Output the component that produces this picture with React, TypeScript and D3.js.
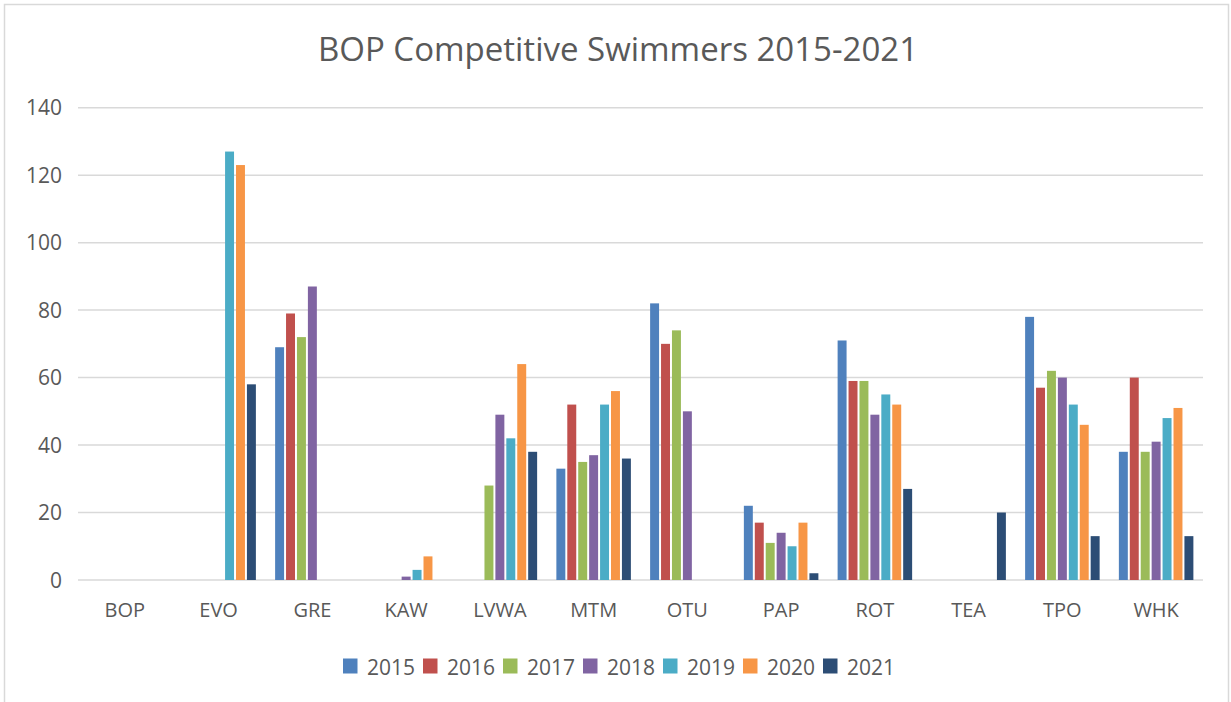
import * as d3 from 'd3';

const clubs = ['BOP', 'EVO', 'GRE', 'KAW', 'LVWA', 'MTM', 'OTU', 'PAP', 'ROT', 'TEA', 'TPO', 'WHK'];
const years = ['2015', '2016', '2017', '2018', '2019', '2020', '2021'];
const colors = ['#4f81bd', '#c0504d', '#9bbb59', '#8064a2', '#4bacc6', '#f79646', '#2c4d75'];

// one array per year, in club order
const y2015 = [0, 0, 69, 0, 0, 33, 82, 22, 71, 0, 78, 38];
const y2016 = [0, 0, 79, 0, 0, 52, 70, 17, 59, 0, 57, 60];
const y2017 = [0, 0, 72, 0, 28, 35, 74, 11, 59, 0, 62, 38];
const y2018 = [0, 0, 87, 1, 49, 37, 50, 14, 49, 0, 60, 41];
const y2019 = [0, 127, 0, 3, 42, 52, 0, 10, 55, 0, 52, 48];
const y2020 = [0, 123, 0, 7, 64, 56, 0, 17, 52, 0, 46, 51];
const y2021 = [0, 58, 0, 0, 38, 36, 0, 2, 27, 20, 13, 13];
const yTicks = [0, 20, 40, 60, 80, 100, 120, 140];

const series = [y2015, y2016, y2017, y2018, y2019, y2020, y2021];

const W = 1231;
const H = 702;
const M = { top: 107.7, right: 28, bottom: 122, left: 78 };
const FONT = '"Open Sans", "Noto Sans", sans-serif';
const TEXT = '#595959';

const App = () => {
  const x = d3.scaleBand().domain(clubs).range([M.left, W - M.right]).padding(0);
  const xs = d3.scaleBand().domain(years).range([0, x.bandwidth()])
    .paddingInner(0.18).paddingOuter(0.88);
  const y = d3.scaleLinear().domain([0, 140]).range([H - M.bottom, M.top]);

  const legendX = d3.scaleBand().domain(years).range([343, 343 + 80 * 7]);

  return (
    <svg width={W} height={H} style={{ position: 'absolute', left: 0, top: 0, background: '#fff' }}
      fontFamily={FONT}>
      <rect x={4.5} y={4.5} width={W - 7} height={H + 10} fill="#fff" stroke="#d9d9d9" strokeWidth={1.5} />
      <text x={618} y={61} textAnchor="middle" fontSize={33} fill={TEXT}>
        BOP Competitive Swimmers 2015-2021
      </text>

      {yTicks.map(t => (
        <g key={t}>
          <line x1={M.left} x2={W - M.right} y1={y(t)} y2={y(t)} stroke="#d9d9d9" strokeWidth={1.5} />
          <text x={62} y={y(t)} dy="0.36em" textAnchor="end" fontSize={21} fill={TEXT}>{t}</text>
        </g>
      ))}

      {series.map((vals, si) => (
        <g key={years[si]} fill={colors[si]}>
          {vals.map((v, ci) => v > 0 && (
            <rect key={clubs[ci]}
              x={x(clubs[ci]) + xs(years[si])}
              y={y(v)}
              width={xs.bandwidth()}
              height={y(0) - y(v)} />
          ))}
        </g>
      ))}

      {clubs.map(c => (
        <text key={c} x={x(c) + x.bandwidth() / 2} y={617} textAnchor="middle" fontSize={20} fill={TEXT}>{c}</text>
      ))}

      {years.map((yr, i) => (
        <g key={yr} transform={`translate(${legendX(yr)}, 658.5)`}>
          <rect width={14.5} height={15} fill={colors[i]} />
          <text x={24} y={16.5} fontSize={21} fill={TEXT}>{yr}</text>
        </g>
      ))}
    </svg>
  );
};

export default App;
